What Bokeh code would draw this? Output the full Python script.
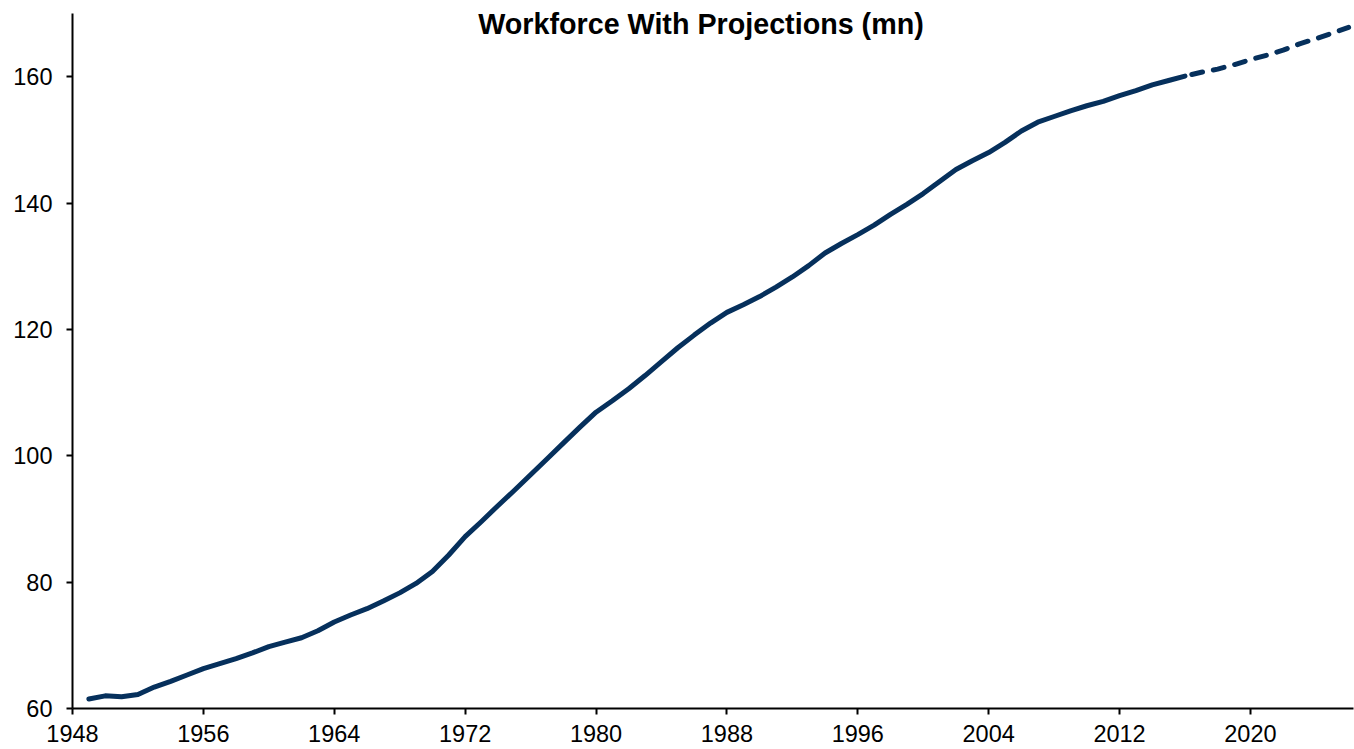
from bokeh.plotting import figure
from bokeh.models import Range1d, FixedTicker, Label, ColumnDataSource
from bokeh.embed import file_html
from bokeh.resources import INLINE

# ---- data ----
hist_years = list(range(1949, 2017))
hist_values = [
    61.5, 62.0, 61.85, 62.2, 63.4, 64.3, 65.3, 66.3, 67.1, 67.9,   # 1949-1958
    68.8, 69.8, 70.5, 71.2, 72.3, 73.7, 74.8, 75.8, 77.0, 78.3,    # 1959-1968
    79.8, 81.7, 84.3, 87.2, 89.6, 92.1, 94.5, 97.0, 99.5, 102.0,   # 1969-1978
    104.5, 106.9, 108.7, 110.6, 112.7, 114.9, 117.1, 119.1, 121.0, 122.7,  # 1979-1988
    123.9, 125.2, 126.7, 128.3, 130.1, 132.1, 133.6, 135.0, 136.5, 138.2,  # 1989-1998
    139.8, 141.5, 143.4, 145.3, 146.7, 148.0, 149.6, 151.4, 152.8, 153.7,  # 1999-2008
    154.6, 155.4, 156.1, 157.0, 157.8, 158.7, 159.4, 160.1,              # 2009-2016
]
proj_years = list(range(2016, 2027))
proj_values = [160.1, 160.7, 161.2, 161.9, 162.7, 163.4, 164.2, 165.2, 166.0, 166.9, 167.8]

x_ticks = list(range(1948, 2021, 8))
y_ticks = [60, 80, 100, 120, 140, 160]
title_text = "Workforce With Projections  (mn)"

LINE_COLOR = "#06305C"
FONT = "Liberation Sans"

p = figure(
    width=1354, height=749,
    x_range=Range1d(1948, 2026.3), y_range=Range1d(60, 172.06),
    output_backend="svg", toolbar_location=None,
    min_border_left=72, min_border_right=1, min_border_top=0, min_border_bottom=41,
)
p.outline_line_color = None
p.xgrid.visible = False
p.ygrid.visible = False
p.background_fill_color = "white"
p.border_fill_color = "white"

for ax in (p.xaxis[0], p.yaxis[0]):
    ax.axis_line_width = 2
    ax.axis_line_color = "black"
    ax.major_tick_line_width = 2
    ax.major_tick_line_color = "black"
    ax.major_tick_out = 6
    ax.major_tick_in = 0
    ax.minor_tick_line_color = None
    ax.major_label_text_font = FONT
    ax.major_label_text_font_size = "23.5px"
    ax.major_label_text_color = "black"

p.xaxis[0].ticker = FixedTicker(ticks=x_ticks)
p.yaxis[0].ticker = FixedTicker(ticks=y_ticks)
p.yaxis[0].bounds = (60, 170)
p.xaxis[0].major_label_standoff = 10
p.yaxis[0].major_label_standoff = 14

hist_src = ColumnDataSource(dict(x=hist_years, y=hist_values))
proj_src = ColumnDataSource(dict(x=proj_years, y=proj_values))

p.line("x", "y", source=hist_src, line_color=LINE_COLOR, line_width=5,
       line_cap="round", line_join="round")
p.line("x", "y", source=proj_src, line_color=LINE_COLOR, line_width=5,
       line_cap="round", line_join="round", line_dash="11 11", line_dash_offset=15)

title = Label(x=1986.66, y=168.39, text=title_text, text_align="center",
              text_baseline="middle", text_font=FONT, text_font_style="bold",
              text_font_size="28.7px", text_color="black")
p.add_layout(title)

open("out.html", "w").write(file_html(p, INLINE))
